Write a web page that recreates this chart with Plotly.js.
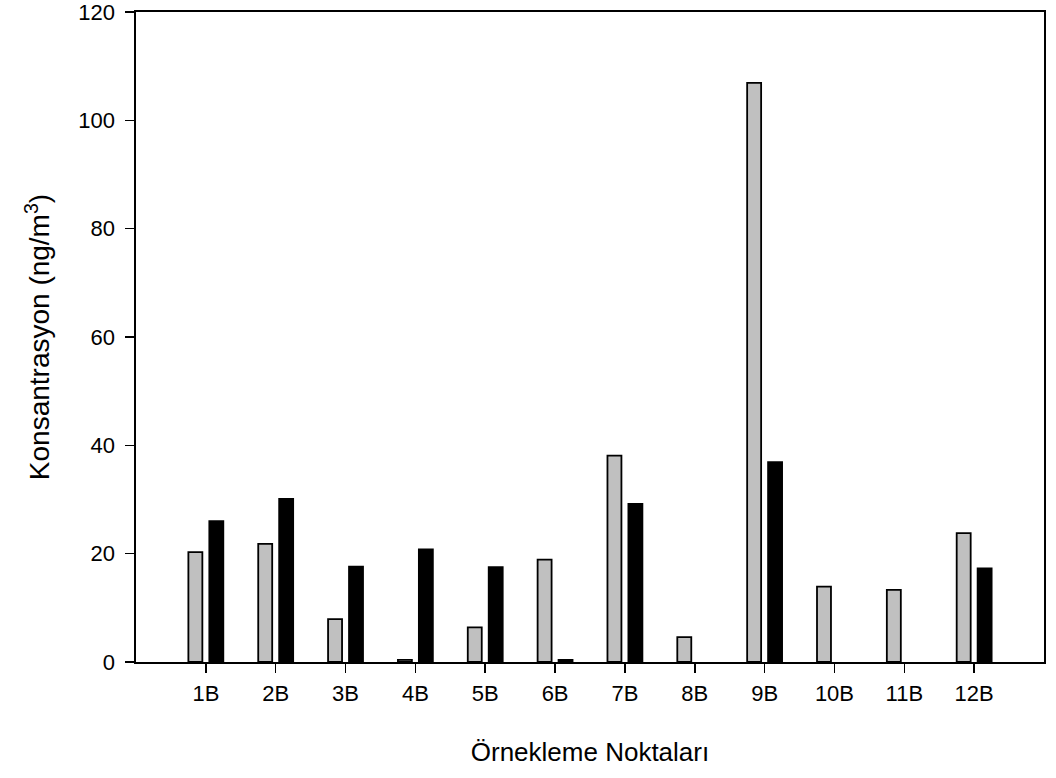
<!DOCTYPE html>
<html>
<head>
<meta charset="utf-8">
<script src="https://cdn.plot.ly/plotly-3.0.1.min.js"></script>
<style>
  html, body { margin: 0; padding: 0; background: #ffffff; }
  #chart { width: 1056px; height: 778px; }
</style>
</head>
<body>
<div id="chart"></div>
<script>
// Sampling points
const categories = ['1B', '2B', '3B', '4B', '5B', '6B', '7B', '8B', '9B', '10B', '11B', '12B'];
// Concentrations (ng/m3) for the two series at each point
const seriesGray  = [20.3, 21.8, 7.9, 0.4, 6.4, 18.9, 38.1, 4.6, 106.9, 13.9, 13.3, 23.8];
const seriesBlack = [26.0, 30.1, 17.6, 20.8, 17.5, 0.4, 29.2, 0, 36.9, 0, 0, 17.3];
const yTicks = [0, 20, 40, 60, 80, 100, 120];

const font = { family: 'Liberation Sans, Arial, sans-serif', color: '#000000' };

const traces = [
  {
    type: 'bar',
    x: categories,
    y: seriesGray,
    marker: { color: '#c0c0c0', line: { color: '#000000', width: 1.8 } },
    hoverinfo: 'x+y'
  },
  {
    type: 'bar',
    x: categories,
    y: seriesBlack.map(v => (v > 0 ? v : null)),
    marker: { color: '#000000', line: { color: '#000000', width: 1.8 } },
    hoverinfo: 'x+y'
  }
];

const layout = {
  width: 1056,
  height: 778,
  paper_bgcolor: '#ffffff',
  plot_bgcolor: '#ffffff',
  showlegend: false,
  barmode: 'group',
  bargap: 0.4,
  bargroupgap: 0.333,
  margin: { l: 136, r: 12, t: 12, b: 116 },
  font: Object.assign({ size: 22 }, font),
  xaxis: {
    type: 'category',
    range: [-1, 12],
    showline: true,
    mirror: true,
    linecolor: '#000000',
    linewidth: 1.6,
    ticks: 'outside',
    ticklen: 9,
    tickwidth: 1.6,
    tickcolor: '#000000',
    showgrid: false,
    zeroline: false,
    tickfont: Object.assign({ size: 22 }, font),
    ticklabelstandoff: 2,
    title: { text: 'Örnekleme Noktaları', font: Object.assign({ size: 26 }, font), standoff: 38 }
  },
  yaxis: {
    range: [0, 120],
    tickvals: yTicks,
    ticktext: yTicks.map(String),
    showline: true,
    mirror: true,
    linecolor: '#000000',
    linewidth: 1.6,
    ticks: 'outside',
    ticklen: 9,
    tickwidth: 1.6,
    tickcolor: '#000000',
    showgrid: false,
    zeroline: false,
    tickfont: Object.assign({ size: 22 }, font),
    ticklabelstandoff: 6,
    ticklabeloverflow: 'allow',
    title: { text: 'Konsantrasyon (ng/m<sup>3</sup>)', font: Object.assign({ size: 28 }, font), standoff: 20 }
  }
};

Plotly.newPlot('chart', traces, layout, { displayModeBar: false, staticPlot: true });
</script>
</body>
</html>
